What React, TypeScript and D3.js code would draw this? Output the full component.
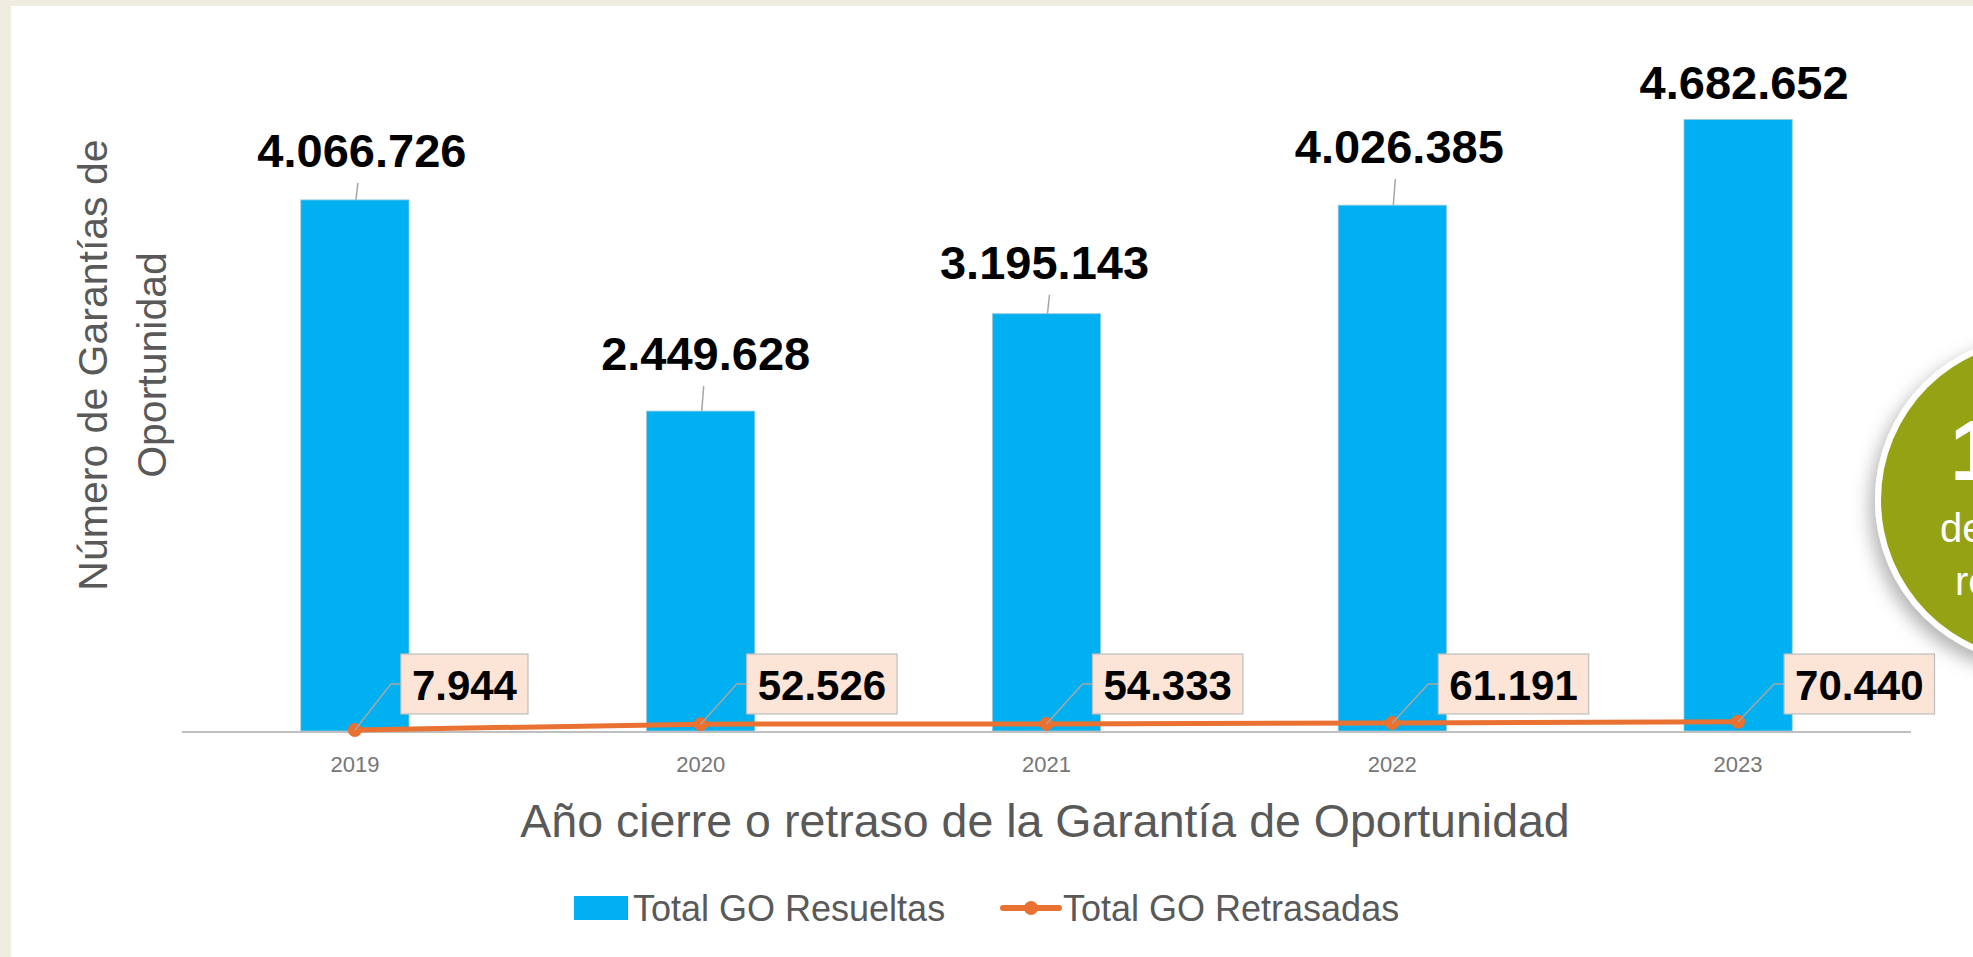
import React from 'react';
import * as d3 from 'd3';

// Datos
const years = ['2019', '2020', '2021', '2022', '2023'];
const resueltas = [4066726, 2449628, 3195143, 4026385, 4682652];
const retrasadas = [7944, 52526, 54333, 61191, 70440];
const yTicksMax = 5000000;

// Ajustes de posición de etiquetas (movidas a mano en el original)
const barLabelDx = [7, 5, -2, 7, 6];
const barLabelGap = [33, 41, 35, 42, 20];

const W = 1973;
const H = 957;
const FONT = '"Liberation Sans", Arial, sans-serif';

const locale = d3.formatLocale({ decimal: ',', thousands: '.', grouping: [3], currency: ['', ''] });
const fmt = locale.format(',d');

const App = () => {
    const x = d3.scaleBand().domain(years).range([182, 1911]).padding(0);
    const y = d3.scaleLinear().domain([0, yTicksMax]).range([731, 78]);
    const barW = x.bandwidth() * 0.313;
    const cx = (d: string) => (x(d) as number) + x.bandwidth() / 2;

    const line = d3.line<number>()
        .x((_, i) => cx(years[i]))
        .y(d => y(d));

    const textW = (s: string, size: number) =>
        s.split('').reduce((a, c) => a + (c === '.' ? 0.278 : 0.556), 0) * size;

    return (
        <div style={{ position: 'absolute', left: 0, top: 0, width: W, height: H, overflow: 'hidden' }}>
            <svg width={W} height={H} style={{ display: 'block' }}>
                <defs>
                    <filter id="shadow" x="-30%" y="-30%" width="160%" height="160%">
                        <feDropShadow dx="-5" dy="8" stdDeviation="9" floodColor="#000" floodOpacity="0.3" />
                    </filter>
                </defs>
                <rect x={0} y={0} width={W} height={H} fill="#efede2" />
                <rect x={11} y={6} width={W - 11} height={H - 6} fill="#ffffff" />

                {/* Bars */}
                {resueltas.map((v, i) => (
                    <rect key={'b' + i}
                        x={cx(years[i]) - barW / 2}
                        y={y(v)}
                        width={barW}
                        height={y(0) - y(v)}
                        fill="#00b0f0"
                        stroke="#9cc9dc"
                        strokeWidth={0.8} />
                ))}

                {/* Axis line */}
                <line x1={182} x2={1911} y1={y(0) + 1} y2={y(0) + 1} stroke="#bfbfbf" strokeWidth={2.2} />

                {/* Tick labels */}
                {years.map(d => (
                    <text key={'t' + d} x={cx(d)} y={772} textAnchor="middle"
                        fontFamily={FONT} fontSize={22} fill="#767676">{d}</text>
                ))}

                {/* Bar labels */}
                {resueltas.map((v, i) => {
                    const bx = cx(years[i]);
                    const top = y(v);
                    const base = top - barLabelGap[i];
                    const leadTop = base + 16;
                    return (
                        <g key={'bl' + i}>
                            {top - leadTop > 6 && (
                                <line x1={bx + 1} y1={top} x2={bx + 3} y2={leadTop} stroke="#a6a6a6" strokeWidth={1.5} />
                            )}
                            <text x={bx + barLabelDx[i]} y={base} textAnchor="middle"
                                fontFamily={FONT} fontWeight="bold" fontSize={47} fill="#000">{fmt(v)}</text>
                        </g>
                    );
                })}

                {/* Line series */}
                <path d={line(retrasadas) as string} fill="none" stroke="#e97132" strokeWidth={5} />
                {retrasadas.map((v, i) => (
                    <circle key={'p' + i} cx={cx(years[i])} cy={y(v)} r={7} fill="#e97132" />
                ))}

                {/* Line labels */}
                {retrasadas.map((v, i) => {
                    const px = cx(years[i]);
                    const py = y(v);
                    const s = fmt(v);
                    const bw = textW(s, 42) + 22;
                    const bl = px + 46;
                    const bt = y(0) - 77;
                    const bh = 60;
                    return (
                        <g key={'ll' + i}>
                            <polyline points={`${px},${py} ${bl - 10},${bt + bh / 2} ${bl},${bt + bh / 2}`}
                                fill="none" stroke="#a6a6a6" strokeWidth={1.5} />
                            <rect x={bl} y={bt} width={bw} height={bh} fill="#fce4d6" stroke="#bfbfbf" strokeWidth={1.2} />
                            <text x={bl + bw / 2} y={bt + 46} textAnchor="middle"
                                fontFamily={FONT} fontWeight="bold" fontSize={42} fill="#000">{s}</text>
                        </g>
                    );
                })}

                {/* Axis titles */}
                <text x={1045} y={837} textAnchor="middle" fontFamily={FONT} fontSize={46.5} fill="#595959">
                    Año cierre o retraso de la Garantía de Oportunidad
                </text>
                <text transform="translate(107,365) rotate(-90)" textAnchor="middle" fontFamily={FONT} fontSize={41} fill="#595959">
                    Número de Garantías de
                </text>
                <text transform="translate(166,365) rotate(-90)" textAnchor="middle" fontFamily={FONT} fontSize={41} fill="#595959">
                    Oportunidad
                </text>

                {/* Legend */}
                <rect x={574} y={896} width={54} height={24} fill="#00b0f0" />
                <text x={633} y={921} fontFamily={FONT} fontSize={36} fill="#595959">Total GO Resueltas</text>
                <line x1={1003} x2={1059} y1={908} y2={908} stroke="#e97132" strokeWidth={6} strokeLinecap="round" />
                <circle cx={1031} cy={908} r={7} fill="#e97132" />
                <text x={1063} y={921} fontFamily={FONT} fontSize={36} fill="#595959">Total GO Retrasadas</text>

                {/* Callout circle */}
                <g filter="url(#shadow)">
                    <circle cx={2040} cy={500} r={165} fill="#ffffff" />
                </g>
                <circle cx={2040} cy={500} r={159} fill="#94a214" />
                <text x={1950} y={480} fontFamily={FONT} fontWeight="bold" fontSize={86} fill="#ffffff">1,3%</text>
                <text x={1940} y={542} fontFamily={FONT} fontSize={40} fill="#ffffff">de las GO</text>
                <text x={1955} y={595} fontFamily={FONT} fontSize={40} fill="#ffffff">retrasadas</text>
            </svg>
        </div>
    );
};

export default App;
